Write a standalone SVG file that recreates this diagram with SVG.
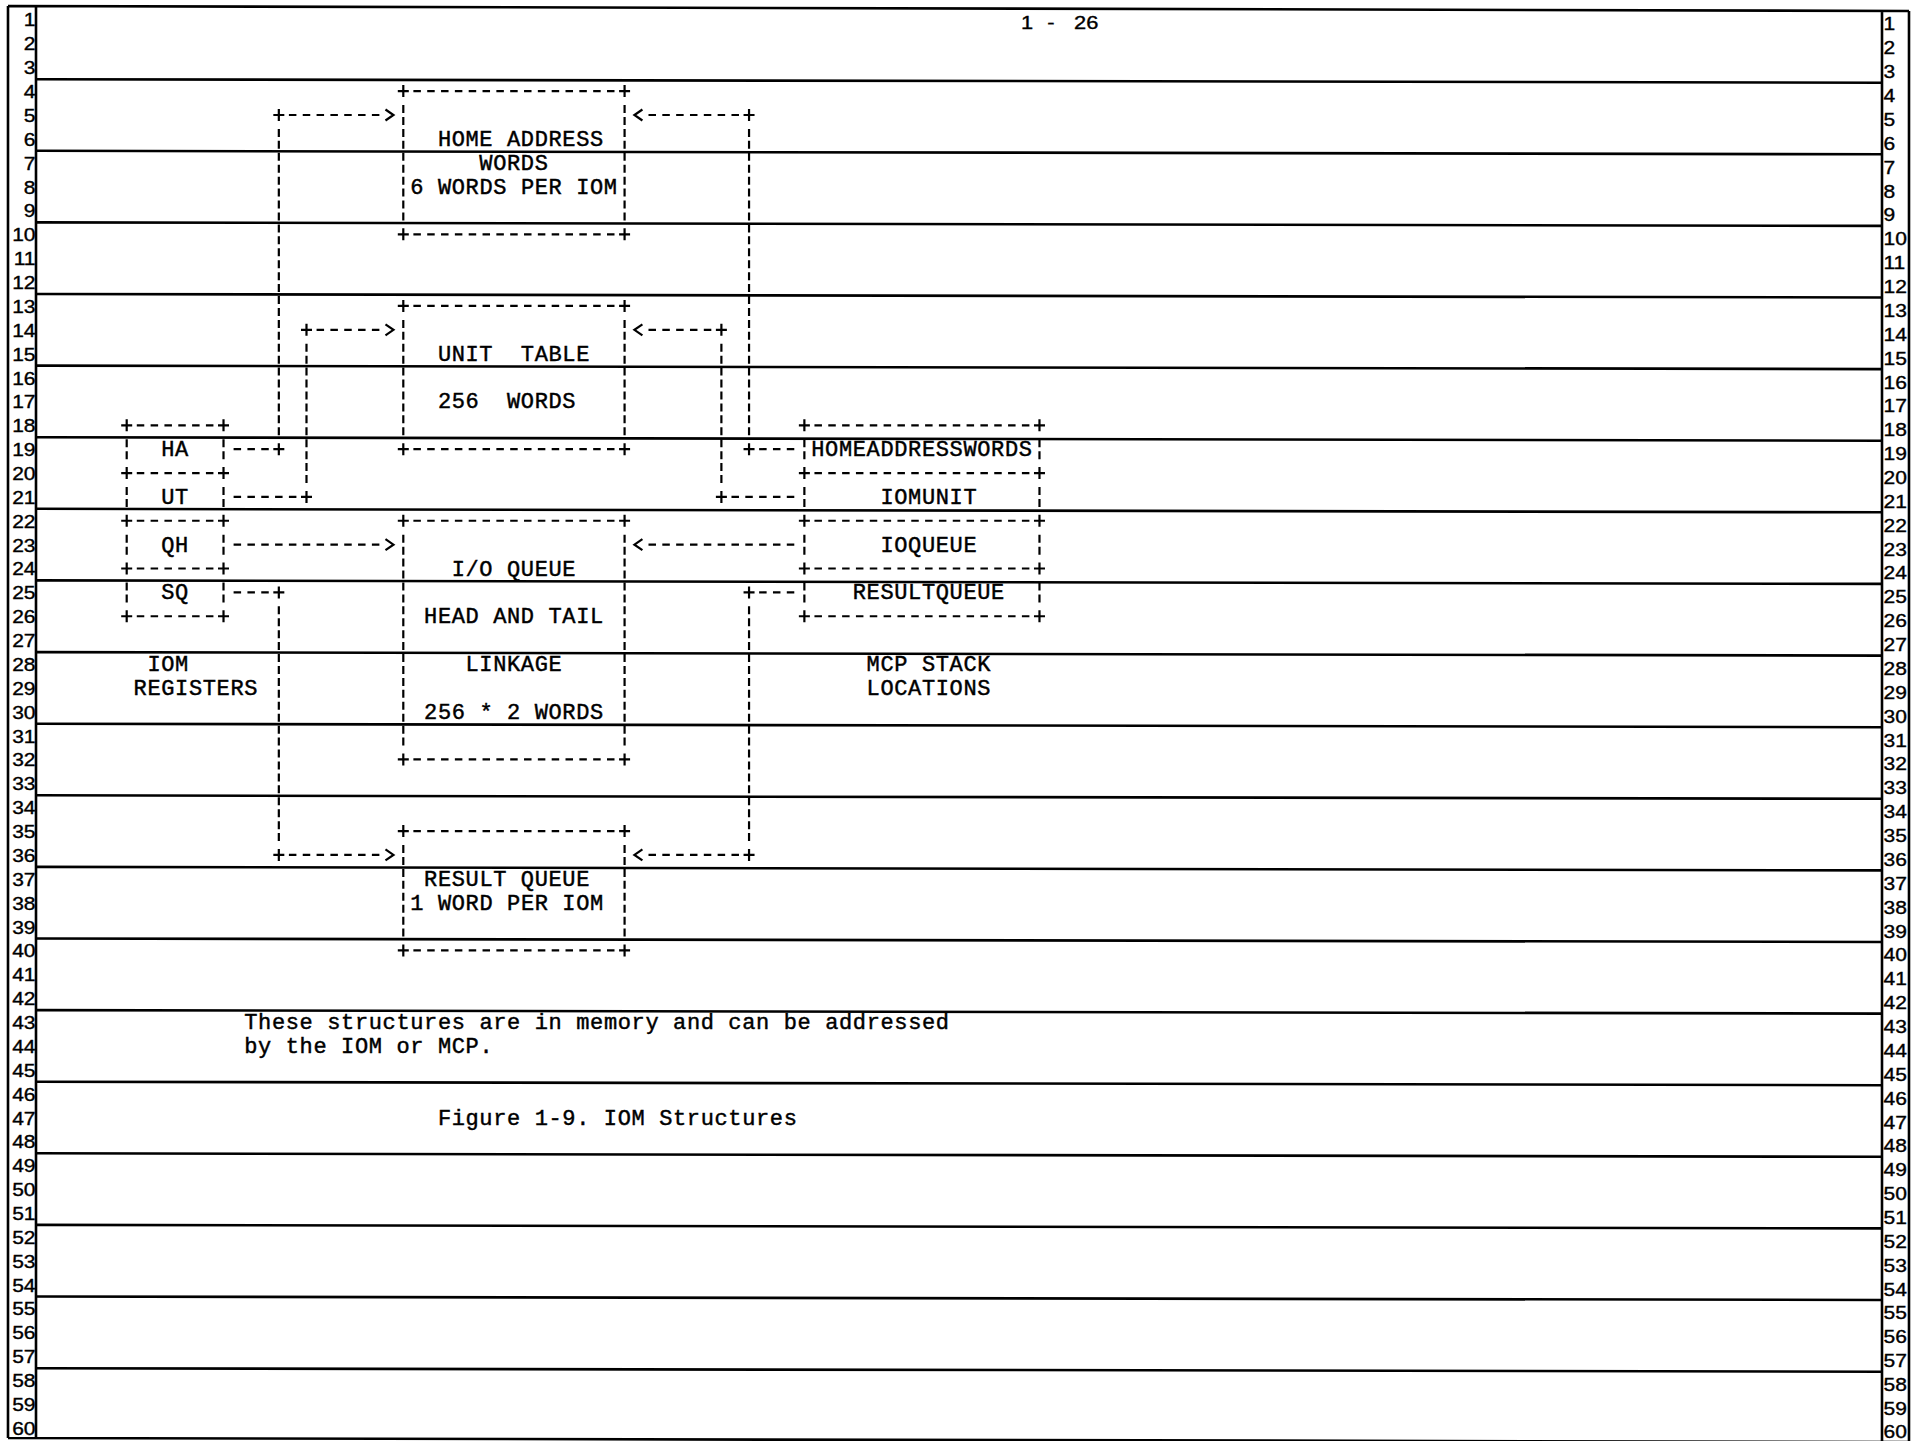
<svg xmlns="http://www.w3.org/2000/svg" xmlns:xlink="http://www.w3.org/1999/xlink" width="1912" height="1441" viewBox="0 0 1912 1441">
<style>
.frame{stroke:#000;stroke-width:2.6;fill:none}
.h{stroke:#000;stroke-width:2.2;stroke-dasharray:7.5 6.33;stroke-dashoffset:10.665;fill:none}
.v{stroke:#000;stroke-width:2.2;stroke-dasharray:8 3.935;stroke-dashoffset:9.935;fill:none}
.t{font-family:"Liberation Mono","DejaVu Sans Mono",monospace;font-size:22px;letter-spacing:0.63px;fill:#000;stroke:#000;stroke-width:0.45px;white-space:pre}
.num{font-family:"Liberation Sans",Arial,sans-serif;font-size:17.5px;fill:#000;stroke:#000;stroke-width:0.35px}
</style>
<defs>
<path id="p" d="M-5.5 0H5.5M0-6V6" stroke="#000" stroke-width="2.2" fill="none"/>
<marker id="arrow" markerUnits="userSpaceOnUse" viewBox="-12 -8 24 16" markerWidth="24" markerHeight="16" refX="-6.915" refY="0" orient="auto" overflow="visible">
<path d="M-4-5.5L4 0-4 5.5" fill="none" stroke="#000" stroke-width="2.2" stroke-dasharray="none"/>
</marker>
</defs>
<rect x="0" y="0" width="1912" height="1441" fill="#fff"/>
<g id="page">
<path class="frame" d="M8 6L1909 11M8 1438L1909 1442M8 6V1438M36 6V1438M1882 10V1441M1909 11V1441"/>
<path class="frame" d="M36 79.2L1882 82.7M36 150.8L1882 154.3M36 222.4L1882 225.9M36 294L1882 297.5M36 365.6L1882 369.1M36 437.2L1882 440.7M36 508.8L1882 512.3M36 580.4L1882 583.9M36 652.1L1882 655.6M36 723.7L1882 727.2M36 795.3L1882 798.8M36 866.9L1882 870.4M36 938.5L1882 942M36 1010.1L1882 1013.6M36 1081.7L1882 1085.2M36 1153.3L1882 1156.8M36 1224.9L1882 1228.4M36 1296.5L1882 1300M36 1368.2L1882 1371.7"/>
<text class="num" transform="translate(1021 29) scale(1.25 1)" x="0 12 21 32 42.4">1 - 26</text>
<g class="num" transform="scale(1.2 1)" text-anchor="end">
<text x="29.6" y="26.5">1</text><text x="29.6" y="50.37">2</text><text x="29.6" y="74.24">3</text><text x="29.6" y="98.11">4</text><text x="29.6" y="121.98">5</text><text x="29.6" y="145.85">6</text><text x="29.6" y="169.72">7</text><text x="29.6" y="193.59">8</text><text x="29.6" y="217.46">9</text><text x="29.6" y="241.33">10</text>
<text x="29.6" y="265.2">11</text><text x="29.6" y="289.07">12</text><text x="29.6" y="312.94">13</text><text x="29.6" y="336.81">14</text><text x="29.6" y="360.68">15</text><text x="29.6" y="384.55">16</text><text x="29.6" y="408.42">17</text><text x="29.6" y="432.29">18</text><text x="29.6" y="456.16">19</text><text x="29.6" y="480.03">20</text>
<text x="29.6" y="503.9">21</text><text x="29.6" y="527.77">22</text><text x="29.6" y="551.64">23</text><text x="29.6" y="575.51">24</text><text x="29.6" y="599.38">25</text><text x="29.6" y="623.25">26</text><text x="29.6" y="647.12">27</text><text x="29.6" y="670.99">28</text><text x="29.6" y="694.86">29</text><text x="29.6" y="718.73">30</text>
<text x="29.6" y="742.6">31</text><text x="29.6" y="766.47">32</text><text x="29.6" y="790.34">33</text><text x="29.6" y="814.21">34</text><text x="29.6" y="838.08">35</text><text x="29.6" y="861.95">36</text><text x="29.6" y="885.82">37</text><text x="29.6" y="909.69">38</text><text x="29.6" y="933.56">39</text><text x="29.6" y="957.43">40</text>
<text x="29.6" y="981.3">41</text><text x="29.6" y="1005.17">42</text><text x="29.6" y="1029.04">43</text><text x="29.6" y="1052.91">44</text><text x="29.6" y="1076.78">45</text><text x="29.6" y="1100.65">46</text><text x="29.6" y="1124.52">47</text><text x="29.6" y="1148.39">48</text><text x="29.6" y="1172.26">49</text><text x="29.6" y="1196.13">50</text>
<text x="29.6" y="1220">51</text><text x="29.6" y="1243.87">52</text><text x="29.6" y="1267.74">53</text><text x="29.6" y="1291.61">54</text><text x="29.6" y="1315.48">55</text><text x="29.6" y="1339.35">56</text><text x="29.6" y="1363.22">57</text><text x="29.6" y="1387.09">58</text><text x="29.6" y="1410.96">59</text><text x="29.6" y="1434.83">60</text>
</g>
<g class="num" transform="scale(1.2 1)">
<text x="1569.6" y="30.5">1</text><text x="1569.6" y="54.37">2</text><text x="1569.6" y="78.24">3</text><text x="1569.6" y="102.11">4</text><text x="1569.6" y="125.98">5</text><text x="1569.6" y="149.85">6</text><text x="1569.6" y="173.72">7</text><text x="1569.6" y="197.59">8</text><text x="1569.6" y="221.46">9</text><text x="1569.6" y="245.33">10</text>
<text x="1569.6" y="269.2">11</text><text x="1569.6" y="293.07">12</text><text x="1569.6" y="316.94">13</text><text x="1569.6" y="340.81">14</text><text x="1569.6" y="364.68">15</text><text x="1569.6" y="388.55">16</text><text x="1569.6" y="412.42">17</text><text x="1569.6" y="436.29">18</text><text x="1569.6" y="460.16">19</text><text x="1569.6" y="484.03">20</text>
<text x="1569.6" y="507.9">21</text><text x="1569.6" y="531.77">22</text><text x="1569.6" y="555.64">23</text><text x="1569.6" y="579.51">24</text><text x="1569.6" y="603.38">25</text><text x="1569.6" y="627.25">26</text><text x="1569.6" y="651.12">27</text><text x="1569.6" y="674.99">28</text><text x="1569.6" y="698.86">29</text><text x="1569.6" y="722.73">30</text>
<text x="1569.6" y="746.6">31</text><text x="1569.6" y="770.47">32</text><text x="1569.6" y="794.34">33</text><text x="1569.6" y="818.21">34</text><text x="1569.6" y="842.08">35</text><text x="1569.6" y="865.95">36</text><text x="1569.6" y="889.82">37</text><text x="1569.6" y="913.69">38</text><text x="1569.6" y="937.56">39</text><text x="1569.6" y="961.43">40</text>
<text x="1569.6" y="985.3">41</text><text x="1569.6" y="1009.17">42</text><text x="1569.6" y="1033.04">43</text><text x="1569.6" y="1056.91">44</text><text x="1569.6" y="1080.78">45</text><text x="1569.6" y="1104.65">46</text><text x="1569.6" y="1128.52">47</text><text x="1569.6" y="1152.39">48</text><text x="1569.6" y="1176.26">49</text><text x="1569.6" y="1200.13">50</text>
<text x="1569.6" y="1224">51</text><text x="1569.6" y="1247.87">52</text><text x="1569.6" y="1271.74">53</text><text x="1569.6" y="1295.61">54</text><text x="1569.6" y="1319.48">55</text><text x="1569.6" y="1343.35">56</text><text x="1569.6" y="1367.22">57</text><text x="1569.6" y="1391.09">58</text><text x="1569.6" y="1414.96">59</text><text x="1569.6" y="1438.3">60</text>
</g>
</g>

<g id="home-address-words">
<line class="h" x1="410.215" y1="91.11" x2="617.665" y2="91.11"/>
<line class="h" x1="410.215" y1="234.33" x2="617.665" y2="234.33"/>
<line class="v" x1="403.3" y1="103.045" x2="403.3" y2="222.395"/>
<line class="v" x1="624.58" y1="103.045" x2="624.58" y2="222.395"/>
<use href="#p" x="403.3" y="91.11"/><use href="#p" x="624.58" y="91.11"/><use href="#p" x="403.3" y="234.33"/><use href="#p" x="624.58" y="234.33"/>
<text class="t" x="437.88" y="145.85">HOME ADDRESS</text>
<text class="t" x="479.37" y="169.72">WORDS</text>
<text class="t" x="410.22" y="193.59">6 WORDS PER IOM</text>
</g>

<g id="unit-table">
<line class="h" x1="410.215" y1="305.94" x2="617.665" y2="305.94"/>
<line class="h" x1="410.215" y1="449.16" x2="617.665" y2="449.16"/>
<line class="v" x1="403.3" y1="317.875" x2="403.3" y2="437.225"/>
<line class="v" x1="624.58" y1="317.875" x2="624.58" y2="437.225"/>
<use href="#p" x="403.3" y="305.94"/><use href="#p" x="624.58" y="305.94"/><use href="#p" x="403.3" y="449.16"/><use href="#p" x="624.58" y="449.16"/>
<text class="t" x="437.88" y="360.68">UNIT  TABLE</text>
<text class="t" x="437.88" y="408.42">256  WORDS</text>
</g>

<g id="io-queue">
<line class="h" x1="410.215" y1="520.77" x2="617.665" y2="520.77"/>
<line class="h" x1="410.215" y1="759.47" x2="617.665" y2="759.47"/>
<line class="v" x1="403.3" y1="532.705" x2="403.3" y2="747.535"/>
<line class="v" x1="624.58" y1="532.705" x2="624.58" y2="747.535"/>
<use href="#p" x="403.3" y="520.77"/><use href="#p" x="624.58" y="520.77"/><use href="#p" x="403.3" y="759.47"/><use href="#p" x="624.58" y="759.47"/>
<text class="t" x="451.71" y="575.51">I/O QUEUE</text>
<text class="t" x="424.05" y="623.25">HEAD AND TAIL</text>
<text class="t" x="465.54" y="670.99">LINKAGE</text>
<text class="t" x="424.05" y="718.73">256 * 2 WORDS</text>
</g>

<g id="result-queue">
<line class="h" x1="410.215" y1="831.08" x2="617.665" y2="831.08"/>
<line class="h" x1="410.215" y1="950.43" x2="617.665" y2="950.43"/>
<line class="v" x1="403.3" y1="843.015" x2="403.3" y2="938.495"/>
<line class="v" x1="624.58" y1="843.015" x2="624.58" y2="938.495"/>
<use href="#p" x="403.3" y="831.08"/><use href="#p" x="624.58" y="831.08"/><use href="#p" x="403.3" y="950.43"/><use href="#p" x="624.58" y="950.43"/>
<text class="t" x="424.05" y="885.82">RESULT QUEUE</text>
<text class="t" x="410.22" y="909.69">1 WORD PER IOM</text>
</g>

<g id="iom-registers">
<line class="h" x1="133.615" y1="425.29" x2="216.595" y2="425.29"/>
<line class="h" x1="133.615" y1="473.03" x2="216.595" y2="473.03"/>
<line class="h" x1="133.615" y1="520.77" x2="216.595" y2="520.77"/>
<line class="h" x1="133.615" y1="568.51" x2="216.595" y2="568.51"/>
<line class="h" x1="133.615" y1="616.25" x2="216.595" y2="616.25"/>
<line class="v" x1="126.7" y1="437.225" x2="126.7" y2="461.095"/><line class="v" x1="223.51" y1="437.225" x2="223.51" y2="461.095"/>
<line class="v" x1="126.7" y1="484.965" x2="126.7" y2="508.835"/><line class="v" x1="223.51" y1="484.965" x2="223.51" y2="508.835"/>
<line class="v" x1="126.7" y1="532.705" x2="126.7" y2="556.575"/><line class="v" x1="223.51" y1="532.705" x2="223.51" y2="556.575"/>
<line class="v" x1="126.7" y1="580.445" x2="126.7" y2="604.315"/><line class="v" x1="223.51" y1="580.445" x2="223.51" y2="604.315"/>
<use href="#p" x="126.7" y="425.29"/><use href="#p" x="223.51" y="425.29"/>
<use href="#p" x="126.7" y="473.03"/><use href="#p" x="223.51" y="473.03"/>
<use href="#p" x="126.7" y="520.77"/><use href="#p" x="223.51" y="520.77"/>
<use href="#p" x="126.7" y="568.51"/><use href="#p" x="223.51" y="568.51"/>
<use href="#p" x="126.7" y="616.25"/><use href="#p" x="223.51" y="616.25"/>
<text class="t" x="161.28" y="456.16">HA</text>
<text class="t" x="161.28" y="503.9">UT</text>
<text class="t" x="161.28" y="551.64">QH</text>
<text class="t" x="161.28" y="599.38">SQ</text>
<text class="t" x="147.45" y="670.99">IOM</text>
<text class="t" x="133.62" y="694.86">REGISTERS</text>
</g>

<g id="mcp-stack-locations">
<line class="h" x1="811.285" y1="425.29" x2="1032.565" y2="425.29"/>
<line class="h" x1="811.285" y1="473.03" x2="1032.565" y2="473.03"/>
<line class="h" x1="811.285" y1="520.77" x2="1032.565" y2="520.77"/>
<line class="h" x1="811.285" y1="568.51" x2="1032.565" y2="568.51"/>
<line class="h" x1="811.285" y1="616.25" x2="1032.565" y2="616.25"/>
<line class="v" x1="804.37" y1="437.225" x2="804.37" y2="461.095"/><line class="v" x1="1039.48" y1="437.225" x2="1039.48" y2="461.095"/>
<line class="v" x1="804.37" y1="484.965" x2="804.37" y2="508.835"/><line class="v" x1="1039.48" y1="484.965" x2="1039.48" y2="508.835"/>
<line class="v" x1="804.37" y1="532.705" x2="804.37" y2="556.575"/><line class="v" x1="1039.48" y1="532.705" x2="1039.48" y2="556.575"/>
<line class="v" x1="804.37" y1="580.445" x2="804.37" y2="604.315"/><line class="v" x1="1039.48" y1="580.445" x2="1039.48" y2="604.315"/>
<use href="#p" x="804.37" y="425.29"/><use href="#p" x="1039.48" y="425.29"/>
<use href="#p" x="804.37" y="473.03"/><use href="#p" x="1039.48" y="473.03"/>
<use href="#p" x="804.37" y="520.77"/><use href="#p" x="1039.48" y="520.77"/>
<use href="#p" x="804.37" y="568.51"/><use href="#p" x="1039.48" y="568.51"/>
<use href="#p" x="804.37" y="616.25"/><use href="#p" x="1039.48" y="616.25"/>
<text class="t" x="811.29" y="456.16">HOMEADDRESSWORDS</text>
<text class="t" x="880.44" y="503.9">IOMUNIT</text>
<text class="t" x="880.44" y="551.64">IOQUEUE</text>
<text class="t" x="852.78" y="599.38">RESULTQUEUE</text>
<text class="t" x="866.61" y="670.99">MCP STACK</text>
<text class="t" x="866.61" y="694.86">LOCATIONS</text>
</g>

<g id="connectors">
<line class="h" x1="230.425" y1="449.16" x2="271.915" y2="449.16"/>
<use href="#p" x="278.83" y="449.16"/>
<line class="v" x1="278.83" y1="126.915" x2="278.83" y2="437.225"/>
<use href="#p" x="278.83" y="114.98"/>
<line class="h" x1="285.745" y1="114.98" x2="382.555" y2="114.98" marker-end="url(#arrow)"/>

<line class="h" x1="230.425" y1="496.9" x2="299.575" y2="496.9"/>
<use href="#p" x="306.49" y="496.9"/>
<line class="v" x1="306.49" y1="341.745" x2="306.49" y2="484.965"/>
<use href="#p" x="306.49" y="329.81"/>
<line class="h" x1="313.405" y1="329.81" x2="382.555" y2="329.81" marker-end="url(#arrow)"/>

<line class="h" x1="230.425" y1="544.64" x2="382.555" y2="544.64" marker-end="url(#arrow)"/>

<line class="h" x1="230.425" y1="592.38" x2="271.915" y2="592.38"/>
<use href="#p" x="278.83" y="592.38"/>
<line class="v" x1="278.83" y1="604.315" x2="278.83" y2="843.015"/>
<use href="#p" x="278.83" y="854.95"/>
<line class="h" x1="285.745" y1="854.95" x2="382.555" y2="854.95" marker-end="url(#arrow)"/>

<line class="h" x1="797.455" y1="449.16" x2="755.965" y2="449.16"/>
<use href="#p" x="749.05" y="449.16"/>
<line class="v" x1="749.05" y1="126.915" x2="749.05" y2="437.225"/>
<use href="#p" x="749.05" y="114.98"/>
<line class="h" x1="742.135" y1="114.98" x2="645.325" y2="114.98" marker-end="url(#arrow)"/>

<line class="h" x1="797.455" y1="496.9" x2="728.305" y2="496.9"/>
<use href="#p" x="721.39" y="496.9"/>
<line class="v" x1="721.39" y1="341.745" x2="721.39" y2="484.965"/>
<use href="#p" x="721.39" y="329.81"/>
<line class="h" x1="714.475" y1="329.81" x2="645.325" y2="329.81" marker-end="url(#arrow)"/>

<line class="h" x1="797.455" y1="544.64" x2="645.325" y2="544.64" marker-end="url(#arrow)"/>

<line class="h" x1="797.455" y1="592.38" x2="755.965" y2="592.38"/>
<use href="#p" x="749.05" y="592.38"/>
<line class="v" x1="749.05" y1="604.315" x2="749.05" y2="843.015"/>
<use href="#p" x="749.05" y="854.95"/>
<line class="h" x1="742.135" y1="854.95" x2="645.325" y2="854.95" marker-end="url(#arrow)"/>
</g>

<g id="notes">
<text class="t" x="244.26" y="1029.04">These structures are in memory and can be addressed</text>
<text class="t" x="244.26" y="1052.91">by the IOM or MCP.</text>
<text class="t" x="437.88" y="1124.52">Figure 1-9. IOM Structures</text>
</g>
</svg>
